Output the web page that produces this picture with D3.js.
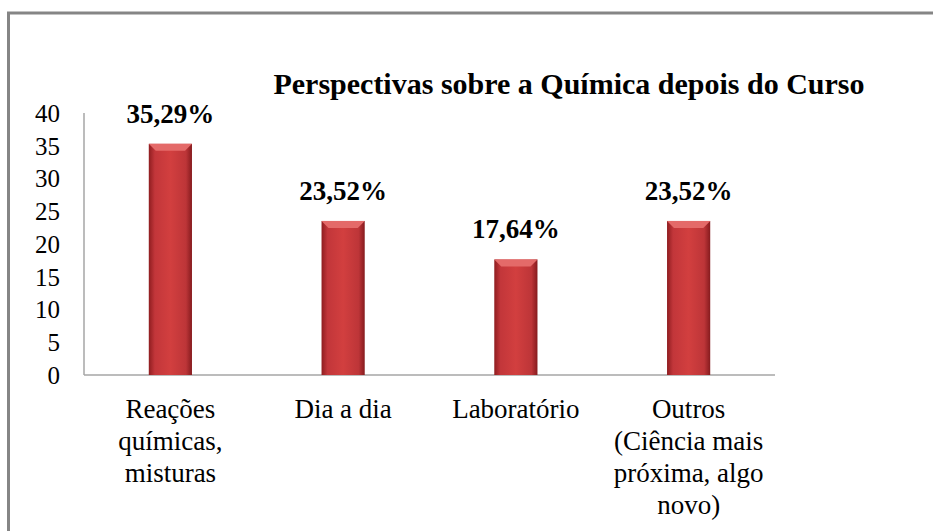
<!DOCTYPE html>
<html>
<head>
<meta charset="utf-8">
<script src="https://cdn.jsdelivr.net/npm/d3@7"></script>
<style>
  body { margin: 0; background: #fff; }
  text { font-family: "Liberation Serif", "Times New Roman", serif; fill: #000; }
</style>
</head>
<body>
<script>
// chart data
var categories = ["Reações químicas, misturas", "Dia a dia", "Laboratório", "Outros (Ciência mais próxima, algo novo)"];
var categoryLines = [
	["Reações", "químicas,", "misturas"],
	["Dia a dia"],
	["Laboratório"],
	["Outros", "(Ciência mais", "próxima, algo", "novo)"]
];
var values = [35.29, 23.52, 17.64, 23.52];
var valueLabels = ["35,29%", "23,52%", "17,64%", "23,52%"];
var yTicks = [0, 5, 10, 15, 20, 25, 30, 35, 40];

var W = 933, H = 531;
var margin = { left: 84, right: 158, top: 113, bottom: 156 };

var svg = d3.select("body").append("svg")
	.attr("width", W)
	.attr("height", H)
	.attr("font-family", "Liberation Serif, serif");

// gradient for the bars
var defs = svg.append("defs");
var grad = defs.append("linearGradient").attr("id", "barGrad")
	.attr("x1", "0%").attr("x2", "100%").attr("y1", "0%").attr("y2", "0%");
grad.append("stop").attr("offset", "0%").attr("stop-color", "#8f1d20");
grad.append("stop").attr("offset", "14%").attr("stop-color", "#c2363a");
grad.append("stop").attr("offset", "50%").attr("stop-color", "#d23f3f");
grad.append("stop").attr("offset", "86%").attr("stop-color", "#bd3538");
grad.append("stop").attr("offset", "100%").attr("stop-color", "#861b1e");

// outer frame
svg.append("rect")
	.attr("x", 8.5).attr("y", 13)
	.attr("width", W + 20).attr("height", H + 20)
	.attr("fill", "none")
	.attr("stroke", "#858585")
	.attr("stroke-width", 3);

var x = d3.scaleBand()
	.domain(categories)
	.range([margin.left, W - margin.right]);

var y = d3.scaleLinear()
	.domain([0, 40])
	.range([H - margin.bottom, margin.top]);

var barW = x.bandwidth() * 0.25;

// title
svg.append("text")
	.attr("x", 569)
	.attr("y", 94)
	.attr("text-anchor", "middle")
	.style("font-size", "30px")
	.style("font-weight", "bold")
	.text("Perspectivas sobre a Química depois do Curso");

// axes lines
svg.append("line")
	.attr("x1", margin.left).attr("x2", margin.left)
	.attr("y1", y(40)).attr("y2", y(0))
	.attr("stroke", "#a6a6a6").attr("stroke-width", 1.5);
svg.append("line")
	.attr("x1", margin.left).attr("x2", W - margin.right)
	.attr("y1", y(0)).attr("y2", y(0))
	.attr("stroke", "#a6a6a6").attr("stroke-width", 1.5);

// y tick labels
svg.selectAll(".ytick")
	.data(yTicks)
	.enter()
	.append("text")
		.attr("class", "ytick")
		.attr("x", 60)
		.attr("y", function(d) { return y(d); })
		.attr("dy", "0.35em")
		.attr("text-anchor", "end")
		.style("font-size", "25px")
		.text(function(d) { return d; });

// bars
var bars = svg.selectAll(".bar")
	.data(values)
	.enter()
	.append("g")
		.attr("class", "bar");

bars.append("rect")
	.attr("x", function(d, i) { return x(categories[i]) + (x.bandwidth() - barW) / 2; })
	.attr("y", function(d) { return y(d); })
	.attr("width", barW)
	.attr("height", function(d) { return y(0) - y(d); })
	.attr("fill", "url(#barGrad)");

// bevelled top
bars.append("path")
	.attr("d", function(d, i) {
		var x0 = x(categories[i]) + (x.bandwidth() - barW) / 2, y0 = y(d), b = 7;
		return "M" + x0 + "," + y0 + "L" + (x0 + barW) + "," + y0 +
			"L" + (x0 + barW - b) + "," + (y0 + b) + "L" + (x0 + b) + "," + (y0 + b) + "Z";
	})
	.attr("fill", "#e46a69");

// value labels
svg.selectAll(".vlabel")
	.data(values)
	.enter()
	.append("text")
		.attr("class", "vlabel")
		.attr("x", function(d, i) { return x(categories[i]) + x.bandwidth() / 2; })
		.attr("y", function(d) { return y(d) - 21; })
		.attr("text-anchor", "middle")
		.style("font-size", "27px")
		.style("font-weight", "bold")
		.text(function(d, i) { return valueLabels[i]; });

// category labels
var cat = svg.selectAll(".cat")
	.data(categories)
	.enter()
	.append("text")
		.attr("class", "cat")
		.attr("text-anchor", "middle")
		.style("font-size", "27px");

cat.selectAll("tspan")
	.data(function(d, i) { return categoryLines[i].map(function(l) { return { l: l, c: d }; }); })
	.enter()
	.append("tspan")
		.attr("x", function(d) { return x(d.c) + x.bandwidth() / 2; })
		.attr("y", function(d, j) { return 418 + j * 32; })
		.text(function(d) { return d.l; });
</script>
</body>
</html>
